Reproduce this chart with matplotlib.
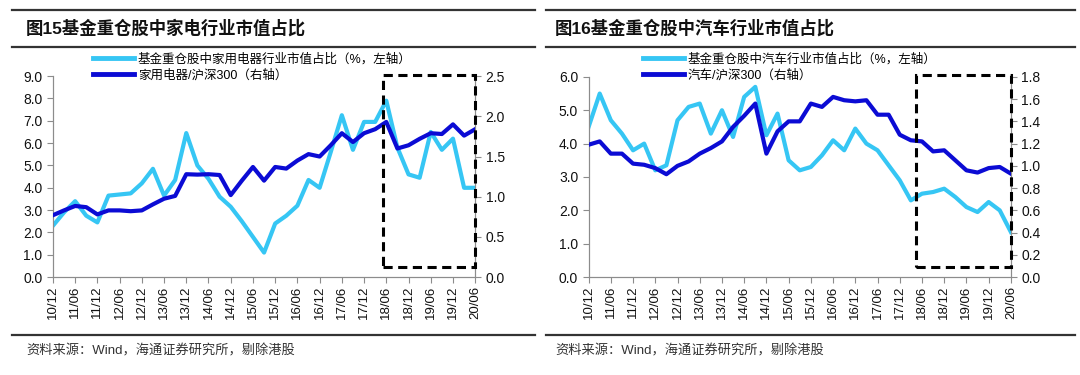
import matplotlib
matplotlib.use('Agg')
import matplotlib.pyplot as plt
from matplotlib.patches import Rectangle
from matplotlib.lines import Line2D
import numpy as np

plt.rcParams['font.family'] = ['Liberation Sans', 'Noto Sans CJK SC', 'DejaVu Sans']

# 季度数据 2010/12 - 2020/06
x_labels = ['10/12', '11/06', '11/12', '12/06', '12/12', '13/06', '13/12', '14/06',
            '14/12', '15/06', '15/12', '16/06', '16/12', '17/06', '17/12', '18/06',
            '18/12', '19/06', '19/12', '20/06']

# 图15 家电
jd_share = [2.3, 2.9, 3.4, 2.75, 2.45, 3.65, 3.7, 3.75, 4.2, 4.85,
            3.65, 4.35, 6.45, 5.0, 4.4, 3.6, 3.15, 2.5, 1.8, 1.1,
            2.4, 2.75, 3.2, 4.35, 4.0, 5.6, 7.25, 5.7, 6.95, 6.95,
            7.9, 5.8, 4.6, 4.45, 6.5, 5.7, 6.2, 4.0, 4.0]
jd_rel = [0.77, 0.83, 0.885, 0.87, 0.78, 0.83, 0.83, 0.82, 0.83, 0.905,
          0.975, 1.01, 1.28, 1.275, 1.28, 1.27, 1.02, 1.2, 1.37, 1.2,
          1.37, 1.35, 1.45, 1.53, 1.5, 1.64, 1.79, 1.68, 1.79, 1.84,
          1.93, 1.6, 1.64, 1.72, 1.79, 1.78, 1.9, 1.76, 1.84]

# 图16 汽车
qc_share = [4.5, 5.5, 4.7, 4.3, 3.8, 4.0, 3.2, 3.35, 4.7, 5.1,
            5.2, 4.3, 5.0, 4.2, 5.4, 5.7, 4.25, 4.9, 3.5, 3.2,
            3.3, 3.65, 4.1, 3.8, 4.45, 4.0, 3.8, 3.35, 2.9, 2.3,
            2.5, 2.55, 2.65, 2.4, 2.1, 1.95, 2.25, 2.0, 1.35]
qc_rel = [1.19, 1.22, 1.11, 1.11, 1.02, 1.01, 0.98, 0.925, 1.0, 1.04,
          1.11, 1.16, 1.22, 1.35, 1.45, 1.56, 1.11, 1.31, 1.40, 1.40,
          1.56, 1.53, 1.62, 1.59, 1.58, 1.59, 1.46, 1.46, 1.28, 1.23,
          1.22, 1.13, 1.14, 1.05, 0.96, 0.94, 0.98, 0.99, 0.93]

LIGHT = '#36c6f4'
DARK = '#0b0bd4'
GRAY = '#8c8c8c'

fig = plt.figure(figsize=(10.8, 3.75), dpi=100)


def panel(rect, share, rel, ylim_l, yt_l, ylim_r, yt_r, box, leg_xy, labels):
    ax = fig.add_axes(rect)
    ax2 = ax.twinx()
    q = np.arange(len(share))
    ax.plot(q, share, color=LIGHT, lw=3.0, solid_joinstyle='round', zorder=3)
    ax2.plot(q, rel, color=DARK, lw=3.0, solid_joinstyle='round', zorder=3)
    ax.set_xlim(0, len(share) - 1)
    ax.set_ylim(*ylim_l)
    ax2.set_ylim(*ylim_r)
    ax.set_yticks(yt_l)
    ax2.set_yticks(yt_r)
    ax.set_yticklabels(['%.1f' % v for v in yt_l])
    ax2.set_yticklabels(['%.1f' % v for v in yt_r])
    ax.set_xticks(np.arange(0, len(share), 2))
    ax.set_xticklabels(x_labels, rotation=90, fontsize=9.5)
    for a in (ax, ax2):
        a.spines['top'].set_visible(False)
        for s in ('left', 'right', 'bottom'):
            a.spines[s].set_color(GRAY)
        a.tick_params(colors=GRAY, labelcolor='#111111', labelsize=10, length=4, width=0.8)
    ax.tick_params(axis='x', labelsize=9.5, pad=2)
    ax2.add_patch(Rectangle((box[0], box[1]), box[2] - box[0], box[3] - box[1],
                            fill=False, ec='black', lw=2.2, ls=(0, (3, 1.8)),
                            clip_on=False, zorder=5))
    handles = [Line2D([], [], color=LIGHT, lw=3.5), Line2D([], [], color=DARK, lw=3.5)]
    ax.legend(handles, labels, loc='upper left', bbox_to_anchor=leg_xy,
              bbox_transform=fig.transFigure, frameon=False, fontsize=9,
              borderpad=0, handlelength=3.3, handletextpad=0.3, labelspacing=0.25,
              borderaxespad=0)
    return ax


panel([0.049, 0.261, 0.391, 0.536], jd_share, jd_rel,
      (0, 9), np.arange(0, 9.01, 1.0), (0, 2.5), np.arange(0, 2.51, 0.5),
      (29.7, 0.12, 38, 2.52), (0.086, 0.858),
      ['基金重仓股中家用电器行业市值占比（%，左轴）', '家用电器/沪深300（右轴）'])
panel([0.545, 0.261, 0.391, 0.534], qc_share, qc_rel,
      (0, 6), np.arange(0, 6.01, 1.0), (0, 1.8), np.arange(0, 1.81, 0.2),
      (29.5, 0.09, 38, 1.82), (0.595, 0.858),
      ['基金重仓股中汽车行业市值占比（%，左轴）', '汽车/沪深300（右轴）'])

# 标题与分隔线
for x0, x1, tx, title in [(0.011, 0.495, 0.024, '图15基金重仓股中家电行业市值占比'),
                          (0.506, 0.995, 0.514, '图16基金重仓股中汽车行业市值占比')]:
    for yy in (0.973, 0.875, 0.107):
        fig.add_artist(Line2D([x0, x1], [yy, yy], color='#333333', lw=1.6))
    fig.text(tx, 0.925, title, fontsize=12.5, fontweight='bold', va='center', color='#111111')
    fig.text(tx, 0.063, '资料来源：Wind，海通证券研究所，剔除港股', fontsize=9.5,
             va='center', color='#333333')

fig.savefig('out.png', dpi=100)
